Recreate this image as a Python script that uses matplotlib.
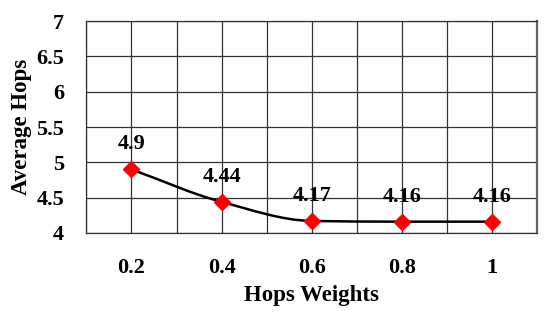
import matplotlib.pyplot as plt
from matplotlib.path import Path
from matplotlib.patches import PathPatch
import numpy as np

weights = ['0.2', '0.4', '0.6', '0.8', '1']
avg_hops = [4.9, 4.44, 4.17, 4.16, 4.16]
y_ticks = [4, 4.5, 5, 5.5, 6, 6.5, 7]
y_labels = ['4', '4.5', '5', '5.5', '6', '6.5', '7']

plt.rcParams['font.family'] = ['Liberation Serif', 'DejaVu Serif']
plt.rcParams['font.weight'] = 'bold'

fig = plt.figure(figsize=(5.5, 3.2), dpi=100)
ax = fig.add_axes([0.157, 0.272, 0.82, 0.662])

# smooth line like excel: monotone cubic slopes -> bezier segments
xs = np.arange(len(avg_hops), dtype=float)
ys = np.array(avg_hops)
sec = np.diff(ys) / np.diff(xs)
d = np.zeros(len(ys))
d[0] = sec[0]
d[-1] = sec[-1]
for i in range(1, len(ys) - 1):
    if sec[i - 1] * sec[i] > 0:
        d[i] = 2 / (1 / sec[i - 1] + 1 / sec[i])
verts = [(xs[0], ys[0])]
codes = [Path.MOVETO]
for i in range(len(ys) - 1):
    h = xs[i + 1] - xs[i]
    verts += [(xs[i] + h / 3, ys[i] + d[i] * h / 3),
              (xs[i + 1] - h / 3, ys[i + 1] - d[i + 1] * h / 3),
              (xs[i + 1], ys[i + 1])]
    codes += [Path.CURVE4] * 3
ax.add_patch(PathPatch(Path(verts, codes), fill=False, color='black', lw=1.8, zorder=3))

ax.plot(xs, ys, linestyle='none', marker='D', color='#ff0000', markersize=8, zorder=4)

for x, y in zip(xs, ys):
    ax.annotate(f'{y:g}', (x, y), textcoords='offset points', xytext=(0, 18),
                ha='center', va='center', fontsize=16, fontweight='bold')

ax.set_xlim(-0.5, 4.5)
ax.set_ylim(4, 7)
ax.set_xticks(xs)
ax.set_xticklabels(weights)
ax.set_xticks(np.arange(-0.5, 4.6, 0.5), minor=True)
ax.set_yticks(y_ticks)
ax.set_yticklabels(y_labels)
ax.grid(True, which='both', axis='x', color='#333333', lw=0.9)
ax.grid(True, which='major', axis='y', color='#333333', lw=0.9)
ax.tick_params(axis='both', which='both', length=0, labelsize=16)
ax.tick_params(axis='x', pad=18)
ax.tick_params(axis='y', pad=16)
for s in ax.spines.values():
    s.set_color('#333333')
    s.set_linewidth(0.9)
ax.spines['right'].set_color('#666666')
ax.spines['right'].set_linewidth(1.6)

ax.set_xlabel('Hops Weights', fontsize=16.5, fontweight='bold', labelpad=5)
ax.set_ylabel('Average Hops', fontsize=16.5, fontweight='bold', labelpad=3)

fig.savefig('out.png', dpi=100)
